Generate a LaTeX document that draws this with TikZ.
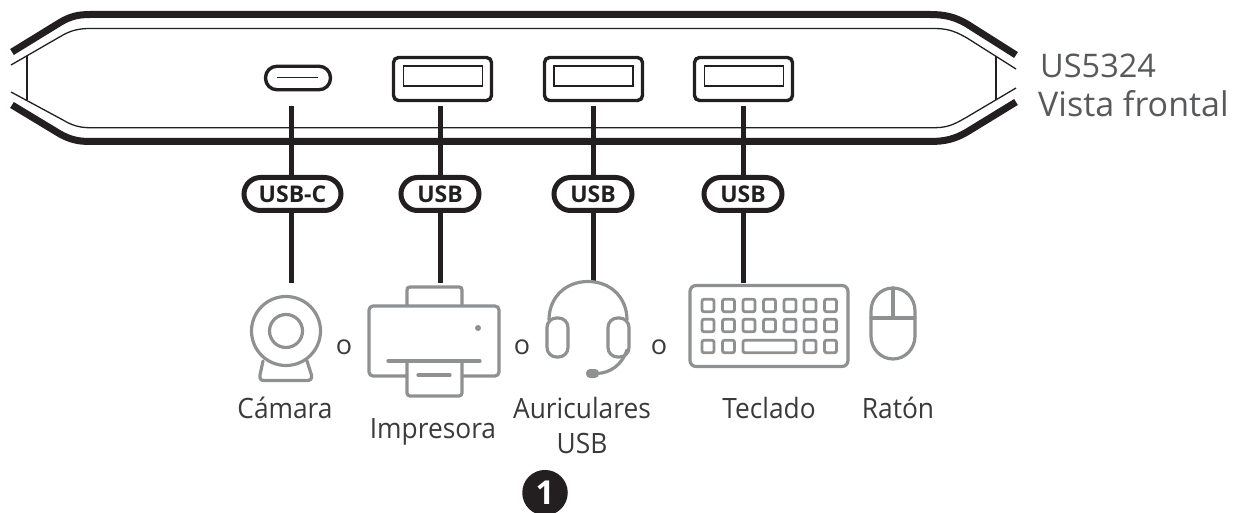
\documentclass[tikz,border=0pt]{standalone}
\usepackage{fontspec}
\setmainfont{Open Sans}
\newfontfamily\labfont[FakeStretch=0.94]{Open Sans}
\definecolor{ink}{HTML}{231F20}
\definecolor{icon}{HTML}{8E9092}
\definecolor{txt}{HTML}{3A3A3C}
\definecolor{head}{HTML}{58595B}
\newcommand{\fs}[1]{\fontsize{#1}{#1}\selectfont}
\tikzset{
  x=1pt,y=-1pt,
  thickedge/.style={draw=ink,line width=7pt,line cap=butt},
  thinedge/.style={draw=ink,line width=1.3pt},
  usbport/.style={draw=ink,line width=3.4pt,rounded corners=5pt,minimum width=98pt,minimum height=43pt,inner sep=0pt,outer sep=0pt},
  usbslot/.style={draw=ink,line width=1.6pt,minimum width=79pt,minimum height=20pt,inner sep=0pt},
  cport/.style={draw=ink,line width=3.4pt,rounded corners=11.5pt,minimum width=65pt,minimum height=23.5pt,inner sep=0pt,outer sep=0pt},
  cable/.style={draw=ink,line width=5pt},
  pill/.style={draw=ink,fill=white,line width=5pt,rounded corners=16.5pt,minimum height=33pt,inner sep=0pt,text=ink,font=\fs{23}\bfseries},
  iconline/.style={draw=icon,line width=3.2pt,line join=round,line cap=round},
  keycap/.style={draw=icon,line width=2.8pt,rounded corners=2pt,minimum width=12pt,minimum height=12.5pt,inner sep=0pt},
  lab/.style={anchor=base,text=txt,font=\labfont\fs{28},inner sep=0pt},
  conj/.style={anchor=base,text=txt,font=\fs{27},inner sep=0pt},
  headline/.style={anchor=base west,text=head,inner sep=0pt},
}
\begin{document}
\begin{tikzpicture}
\useasboundingbox (0,0) rectangle (1242,513);
\clip (0,0) rectangle (1242,513);
% housing
\draw[thickedge] (12,52) -- (60,22.5) .. controls (70,16.5) and (78,14.5) .. (90,14.5) -- (930,14.5) .. controls (945,14.5) and (955,17) .. (967,24) -- (1016,55);
\draw[thickedge] (12,105) -- (60,134) .. controls (70,139.5) and (78,141.5) .. (90,141.5) -- (930,141.5) .. controls (945,141.5) and (955,139) .. (967,132) -- (1016,102);
\draw[thinedge] (11,65) -- (63,35) .. controls (72,30) and (80,28.5) .. (90,28.5) -- (935,28.5) .. controls (950,28.5) and (958,33) .. (967,38) -- (1016,69);
\draw[thinedge] (11,92) -- (63,120) .. controls (72,125.5) and (80,127.7) .. (90,127.7) -- (935,127.7) .. controls (950,127.7) and (958,122) .. (967,117) -- (1016,88);
\draw[thinedge] (27,56) -- (27,100);
\draw[thinedge] (996,56) -- (996,100);
% ports
\node[cport] (pc) at (298,78) {};
\draw[ink,line width=1.6pt] (277,77.5) -- (318,77.5);
\node[usbport] (p1) at (442.5,79) {};
\node[usbport] (p2) at (593.5,79) {};
\node[usbport] (p3) at (743.5,79) {};
\node[usbslot] (s1) at (443,76) {};
\node[usbslot] (s2) at (593.5,76) {};
\node[usbslot] (s3) at (744,76) {};
% cable ends
\coordinate (ct0) at (291,106); \coordinate (cb0) at (291,283);
\coordinate (ct1) at (440,106); \coordinate (cb1) at (440,283);
\coordinate (ct2) at (593,106); \coordinate (cb2) at (593,283);
\coordinate (ct3) at (743,106); \coordinate (cb3) at (743,283);
\draw[cable] (ct0) -- (cb0);
\draw[cable] (ct1) -- (cb1);
\draw[cable] (ct2) -- (cb2);
\draw[cable] (ct3) -- (cb3);
% labels on cables
\node[pill,minimum width=97pt] (l0) at (292.5,194) {USB-C};
\node[pill,minimum width=78pt] (l1) at (440,194) {USB};
\node[pill,minimum width=78pt] (l2) at (593,194) {USB};
\node[pill,minimum width=78pt] (l3) at (743,194) {USB};
% webcam
\draw[iconline] (286,331) circle (34.5);
\draw[iconline] (286,331) circle (16.5);
\draw[iconline] (263,361) -- (260,375) .. controls (259.5,379) and (261,380.5) .. (264,380.5) -- (307,380.5) .. controls (310.5,380.5) and (312,379) .. (311.5,375) -- (307,361);
% printer
\draw[iconline] (407,305) -- (407,290) .. controls (407,288) and (408,287) .. (410,287) -- (459,287) .. controls (461,287) and (462,288) .. (462,290) -- (462,305);
\draw[iconline,rounded corners=4pt] (407,376) -- (369,376) -- (369,306) -- (499,306) -- (499,376) -- (462,376);
\draw[iconline] (388,361) -- (480,361);
\draw[iconline,rounded corners=3pt] (407,361) -- (407,396) -- (462,396) -- (462,361);
\draw[iconline] (418,375) -- (450,375);
\fill[icon] (478,328) circle (3);
% headset
\draw[iconline] (549,320) .. controls (549,297) and (566,281.5) .. (588,281.5) .. controls (610,281.5) and (627,297) .. (627,320);
\draw[iconline,rounded corners=9.5pt] (547,318) rectangle (568,357);
\draw[iconline,rounded corners=9.5pt] (608,318) rectangle (629,357);
\draw[iconline] (627,350) .. controls (622,365) and (610,373) .. (597,373.5);
\fill[icon,rounded corners=4pt] (586,369) rectangle (599,378);
% keyboard
\draw[iconline,rounded corners=6pt] (690,285.5) rectangle (848,366.5);
\foreach \kx [count=\ki] in {708,728.5,749,769.5,790,810,830.5}{
  \node[keycap] (ka\ki) at (\kx,305.5) {};
  \node[keycap] (kb\ki) at (\kx,325.5) {};
}
\foreach \kx [count=\ki] in {708,728.5,810,830.5}{
  \node[keycap] (kc\ki) at (\kx,346.5) {};
}
\node[keycap,minimum width=53pt] (kspace) at (769.5,346.5) {};
% mouse
\draw[iconline] (871,311) .. controls (871,298) and (881,288) .. (893,288) .. controls (905,288) and (915,298) .. (915,311) -- (915,336) .. controls (915,349) and (905,359) .. (893,359) .. controls (881,359) and (871,349) .. (871,336) -- cycle;
\draw[iconline] (871,318) -- (915,318);
\draw[iconline] (893,288) -- (893,318);
% texts
\node[conj] (o1) at (344,354) {o};
\node[conj] (o2) at (522,354) {o};
\node[conj] (o3) at (659,354) {o};
\node[lab] (t1) at (285,418) {Cámara};
\node[lab] (t2) at (433,438) {Impresora};
\node[lab] (t3) at (582,418) {Auriculares};
\node[lab] (t3b) at (582,453) {USB};
\node[lab] (t4) at (769,418) {Teclado};
\node[lab] (t5) at (898,418) {Ratón};
\node[headline,font=\fs{32.5}] (h1) at (1040,78) {US5324};
\node[headline,font=\fs{34}] (h2) at (1038,117) {Vista frontal};
% badge
\node[circle,fill=ink,minimum size=45.5pt,inner sep=0pt,text=white,font=\fs{33}\bfseries] (badge) at (545,492.7) {1};
\end{tikzpicture}
\end{document}
